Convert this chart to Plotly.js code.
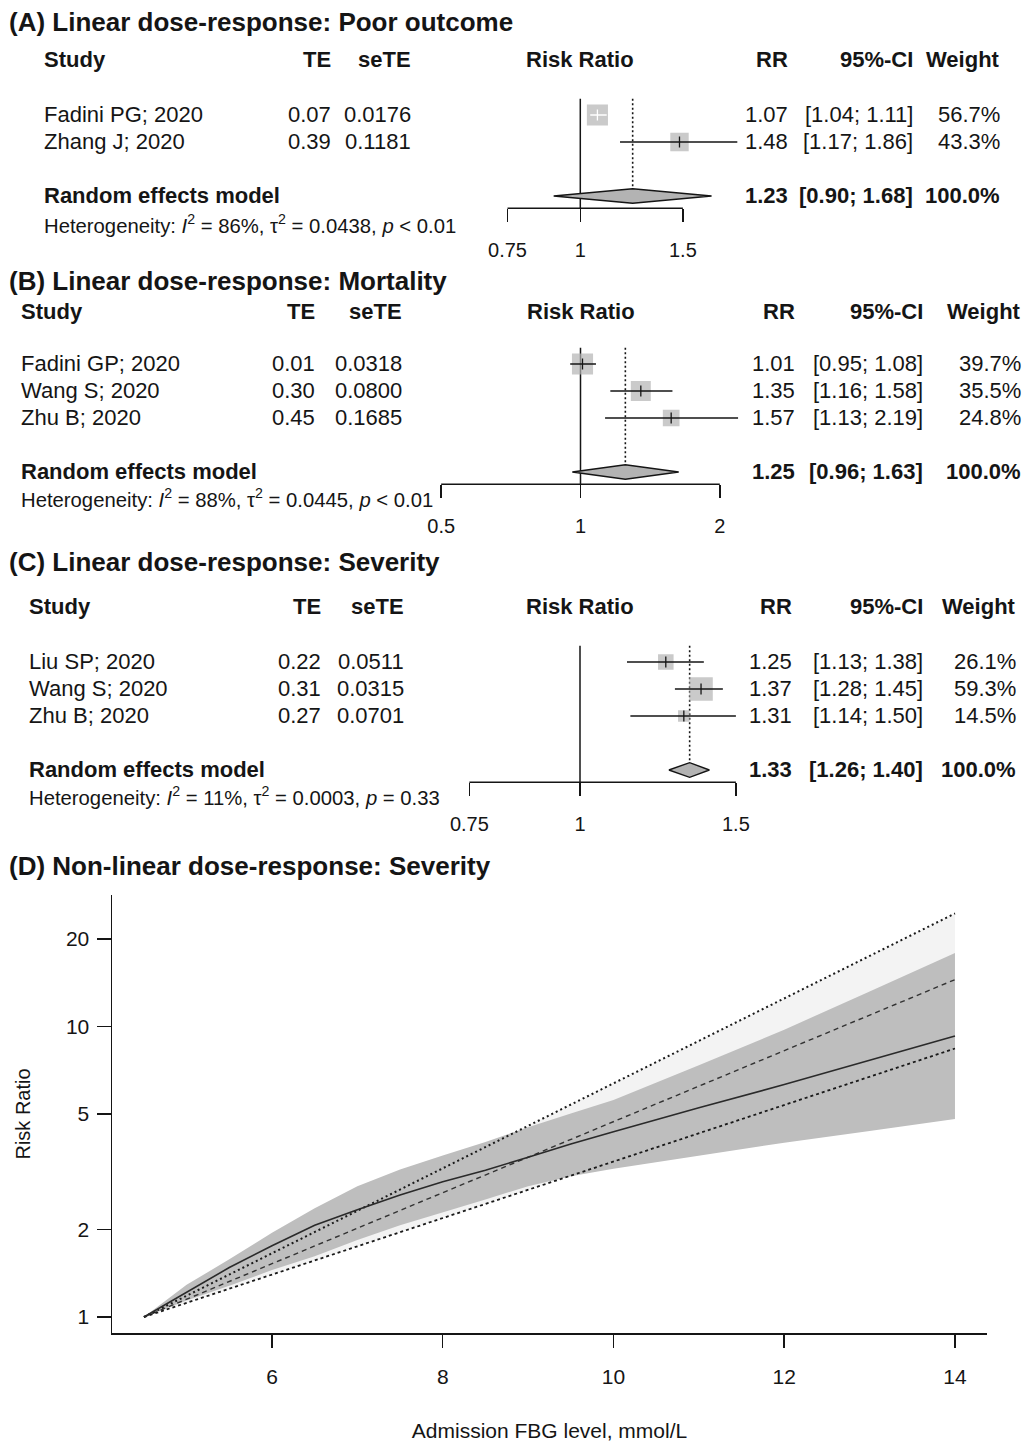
<!DOCTYPE html>
<html>
<head>
<meta charset="utf-8">
<script src="https://cdn.plot.ly/plotly-3.0.1.min.js"></script>
<style>
html,body{margin:0;padding:0;background:#fff;}
#chart{width:1030px;height:1442px;}
</style>
</head>
<body>
<div id="chart"></div>
<script>
// ================= DATA =================
const panelTitles = [
  "(A) Linear dose-response: Poor outcome",
  "(B) Linear dose-response: Mortality",
  "(C) Linear dose-response: Severity",
  "(D) Non-linear dose-response: Severity"
];

// (A) Poor outcome
const studiesA = ["Fadini PG; 2020", "Zhang J; 2020"];
const teA = [0.07, 0.39];
const seTEA = [0.0176, 0.1181];
const rrA = [1.07, 1.48];
const loA = [1.04, 1.17];
const hiA = [1.11, 1.86];
const weightA = [56.7, 43.3];
const ticksA = [0.75, 1, 1.5];

// (B) Mortality
const studiesB = ["Fadini GP; 2020", "Wang S; 2020", "Zhu B; 2020"];
const teB = [0.01, 0.30, 0.45];
const seTEB = [0.0318, 0.0800, 0.1685];
const rrB = [1.01, 1.35, 1.57];
const loB = [0.95, 1.16, 1.13];
const hiB = [1.08, 1.58, 2.19];
const weightB = [39.7, 35.5, 24.8];
const ticksB = [0.5, 1, 2];

// (C) Severity
const studiesC = ["Liu SP; 2020", "Wang S; 2020", "Zhu B; 2020"];
const teC = [0.22, 0.31, 0.27];
const seTEC = [0.0511, 0.0315, 0.0701];
const rrC = [1.25, 1.37, 1.31];
const loC = [1.13, 1.28, 1.14];
const hiC = [1.38, 1.45, 1.50];
const weightC = [26.1, 59.3, 14.5];
const ticksC = [0.75, 1, 1.5];

// Random effects model (A, B, C)
const pooledRR = [1.23, 1.25, 1.33];
const pooledLo = [0.90, 0.96, 1.26];
const pooledHi = [1.68, 1.63, 1.40];
const pooledWeight = [100.0, 100.0, 100.0];
const hetI2 = [86, 88, 11];
const hetTau2 = [0.0438, 0.0445, 0.0003];
const hetP = ["< 0.01", "< 0.01", "= 0.33"];

// (D) Non-linear dose-response
const fbg = [4.5, 5, 5.5, 6, 6.5, 7, 7.5, 8, 8.5, 9, 9.5, 10, 11, 12, 13, 14];
const rrSpline = [1.00, 1.22, 1.48, 1.76, 2.07, 2.34, 2.63, 2.92, 3.20, 3.55, 3.94, 4.34, 5.25, 6.31, 7.67, 9.27];
const splineLo = [1.00, 1.14, 1.28, 1.45, 1.62, 1.84, 2.07, 2.29, 2.54, 2.82, 3.05, 3.24, 3.59, 3.98, 4.37, 4.80];
const splineHi = [1.00, 1.29, 1.58, 1.95, 2.37, 2.82, 3.22, 3.60, 4.00, 4.50, 5.02, 5.58, 7.35, 9.75, 13.2, 17.9];
const fbgLinear = [4.5, 14];
const rrLinear = [1.00, 14.5];
const linearLo = [1.00, 8.4];
const linearHi = [1.00, 24.5];
const ticksDx = [6, 8, 10, 12, 14];
const ticksDy = [1, 2, 5, 10, 20];

// ================= LAYOUT HELPERS =================
const FONT = "Liberation Sans, Arial, Helvetica, sans-serif";
const W = 1030, H = 1442;
const px = v => v / W;
const py = v => 1 - v / H;
const INK = "#151515";
const BOXGRAY = "#b3b3b3";

const forest = [
  { studies: studiesA, te: teA, se: seTEA, rr: rrA, lo: loA, hi: hiA, w: weightA, ticks: ticksA,
    geo: { firstRow: 115, rowH: 27, p1: 580.3, k: 253, box: 2.8, headOff: -1.05, hetOff: 1.05,
           cStudy: 43, cTE: 332, cSE: 412, cRR: 789, cCI: 914, cW: 1001 } },
  { studies: studiesB, te: teB, se: seTEB, rr: rrB, lo: loB, hi: hiB, w: weightB, ticks: ticksB,
    geo: { firstRow: 364, rowH: 27, p1: 580.5, k: 201, box: 3.35, headOff: -0.93, hetOff: 0.95,
           cStudy: 20, cTE: 316, cSE: 403, cRR: 796, cCI: 924, cW: 1022 } },
  { studies: studiesC, te: teC, se: seTEC, rr: rrC, lo: loC, hi: hiC, w: weightC, ticks: ticksC,
    geo: { firstRow: 662, rowH: 27, p1: 580, k: 384.5, box: 3.05, headOff: -1.05, hetOff: 0.97,
           cStudy: 28, cTE: 322, cSE: 405, cRR: 793, cCI: 924, cW: 1017 } }
];

const traces = [];
const annotations = [];
const layout = {
  width: W, height: H,
  margin: { l: 0, r: 0, t: 0, b: 0 },
  paper_bgcolor: "#ffffff", plot_bgcolor: "rgba(0,0,0,0)",
  showlegend: false, hovermode: false,
  font: { family: FONT, color: INK },
  annotations: annotations
};

function txt(x, y, yref, text, anchor, size, bold) {
  annotations.push({
    x: x, y: y, xref: "paper", yref: yref, text: bold ? "<b>" + text + "</b>" : text,
    showarrow: false, xanchor: anchor, yanchor: "middle",
    font: { family: FONT, size: size, color: INK }, borderpad: 0
  });
}

// panel titles
[22, 281, 562, 866].forEach((y, i) => {
  txt(px(8), py(y), "paper", panelTitles[i], "left", 26, true);
});

forest.forEach((P, i) => {
  const G = P.geo;
  const ax = i === 0 ? "" : String(i + 1);
  const xa = "x" + ax, ya = "y" + ax;
  const n = P.studies.length;
  const rows = P.studies.map((_, j) => j + 1);
  const sumRow = n + 2;
  const axisRow = sumRow + 0.45;
  const hetRow = sumRow + G.hetOff;
  const headRow = G.headOff;
  const topRow = 0.4;
  const dh = 0.27;
  const rowPx = r => G.firstRow + (r - 1) * G.rowH;
  const rowAt = p => 1 + (p - G.firstRow) / G.rowH;
  const domTop = rowPx(headRow) - 22;
  const domBot = rowPx(axisRow) + 34;

  layout["xaxis" + ax] = {
    type: "log", domain: [px(420), px(765)],
    range: [(420 - G.p1) / G.k / Math.LN10, (765 - G.p1) / G.k / Math.LN10],
    anchor: "free", position: py(rowPx(axisRow)),
    showline: false, showgrid: false, zeroline: false,
    ticks: "outside", ticklen: 13, tickwidth: 1.5, tickcolor: INK,
    tickvals: P.ticks, ticktext: P.ticks.map(String),
    tickfont: { family: FONT, size: 20, color: INK },
    ticklabelstandoff: 11, fixedrange: true
  };
  layout["yaxis" + ax] = {
    domain: [py(domBot), py(domTop)],
    range: [rowAt(domBot), rowAt(domTop)],
    visible: false, fixedrange: true
  };

  // axis line + null line
  traces.push({
    x: [P.ticks[0], P.ticks[P.ticks.length - 1], null, 1, 1],
    y: [axisRow, axisRow, null, topRow, axisRow],
    xaxis: xa, yaxis: ya, mode: "lines",
    line: { color: INK, width: 1.5 }
  });
  // dotted summary line
  traces.push({
    x: [pooledRR[i], pooledRR[i]], y: [topRow, sumRow - dh],
    xaxis: xa, yaxis: ya, mode: "lines",
    line: { color: INK, width: 1.6, dash: "2px,2.5px" }
  });
  // squares
  const sizes = P.w.map(w => G.box * Math.sqrt(w));
  traces.push({
    x: P.rr, y: rows, xaxis: xa, yaxis: ya, mode: "markers",
    marker: { symbol: "square", size: sizes, color: BOXGRAY, line: { width: 0 } }
  });
  // CI lines
  const blackX = [], blackY = [], whiteX = [], whiteY = [], tickCol = [];
  P.rr.forEach((r, j) => {
    const half = sizes[j] / 2;
    const inside = G.k * Math.log(r / P.lo[j]) <= half && G.k * Math.log(P.hi[j] / r) <= half;
    const X = inside ? whiteX : blackX, Y = inside ? whiteY : blackY;
    X.push(P.lo[j], P.hi[j], null); Y.push(rows[j], rows[j], null);
    tickCol.push(inside ? "#ffffff" : INK);
  });
  traces.push({ x: blackX, y: blackY, xaxis: xa, yaxis: ya, mode: "lines", line: { color: INK, width: 1.5 } });
  traces.push({ x: whiteX, y: whiteY, xaxis: xa, yaxis: ya, mode: "lines", line: { color: "#ffffff", width: 1.5 } });
  traces.push({
    x: P.rr, y: rows, xaxis: xa, yaxis: ya, mode: "markers",
    marker: { symbol: "line-ns", size: 8, line: { width: 1.3, color: tickCol } }
  });
  // diamond
  traces.push({
    x: [pooledLo[i], pooledRR[i], pooledHi[i], pooledRR[i], pooledLo[i]],
    y: [sumRow, sumRow - dh, sumRow, sumRow + dh, sumRow],
    xaxis: xa, yaxis: ya, mode: "lines", fill: "toself", fillcolor: BOXGRAY,
    line: { color: INK, width: 1.4 }
  });

  // column texts
  const xp = v => px(v);
  txt(xp(G.cStudy), headRow, ya, "Study", "left", 22, true);
  txt(xp(G.cTE), headRow, ya, "TE", "right", 22, true);
  txt(xp(G.cSE), headRow, ya, "seTE", "right", 22, true);
  txt(xp(G.p1), headRow, ya, "Risk Ratio", "center", 22, true);
  txt(xp(G.cRR), headRow, ya, "RR", "right", 22, true);
  txt(xp(G.cCI), headRow, ya, "95%-CI", "right", 22, true);
  txt(xp(G.cW), headRow, ya, "Weight", "right", 22, true);
  P.studies.forEach((s, j) => {
    txt(xp(G.cStudy), rows[j], ya, s, "left", 22, false);
    txt(xp(G.cTE), rows[j], ya, P.te[j].toFixed(2), "right", 22, false);
    txt(xp(G.cSE), rows[j], ya, P.se[j].toFixed(4), "right", 22, false);
    txt(xp(G.cRR), rows[j], ya, P.rr[j].toFixed(2), "right", 22, false);
    txt(xp(G.cCI), rows[j], ya, "[" + P.lo[j].toFixed(2) + "; " + P.hi[j].toFixed(2) + "]", "right", 22, false);
    txt(xp(G.cW), rows[j], ya, P.w[j].toFixed(1) + "%", "right", 22, false);
  });
  txt(xp(G.cStudy), sumRow, ya, "Random effects model", "left", 22, true);
  txt(xp(G.cRR), sumRow, ya, pooledRR[i].toFixed(2), "right", 22, true);
  txt(xp(G.cCI), sumRow, ya, "[" + pooledLo[i].toFixed(2) + "; " + pooledHi[i].toFixed(2) + "]", "right", 22, true);
  txt(xp(G.cW), sumRow, ya, pooledWeight[i].toFixed(1) + "%", "right", 22, true);
  const pTxt = hetP[i].replace("<", "&lt;");
  txt(xp(G.cStudy), hetRow, ya,
      "Heterogeneity: <i>I</i><sup>2</sup> = " + hetI2[i] + "%, \u03c4<sup>2</sup> = " +
      hetTau2[i].toFixed(4) + ", <i>p</i> " + pTxt, "left", 20.3, false);
});

// ================= PANEL D =================
const xD = "x4", yD = "y4";
traces.push({ x: fbgLinear, y: linearLo, xaxis: xD, yaxis: yD, mode: "lines", line: { width: 0 } });
traces.push({ x: fbgLinear, y: linearHi, xaxis: xD, yaxis: yD, mode: "lines", line: { width: 0 },
              fill: "tonexty", fillcolor: "#f3f3f3" });
traces.push({ x: fbg, y: splineLo, xaxis: xD, yaxis: yD, mode: "lines", line: { width: 0 } });
traces.push({ x: fbg, y: splineHi, xaxis: xD, yaxis: yD, mode: "lines", line: { width: 0 },
              fill: "tonexty", fillcolor: "#bebebe" });
traces.push({ x: fbgLinear, y: rrLinear, xaxis: xD, yaxis: yD, mode: "lines",
              line: { color: "#333333", width: 1.4, dash: "5px,4px" } });
traces.push({ x: fbgLinear, y: linearHi, xaxis: xD, yaxis: yD, mode: "lines",
              line: { color: "#1a1a1a", width: 2, dash: "2px,3px" } });
traces.push({ x: fbgLinear, y: linearLo, xaxis: xD, yaxis: yD, mode: "lines",
              line: { color: "#1a1a1a", width: 1.8, dash: "3px,3px" } });
traces.push({ x: fbg, y: rrSpline, xaxis: xD, yaxis: yD, mode: "lines",
              line: { color: "#2a2a2a", width: 1.6 } });

layout.xaxis4 = {
  domain: [px(112), px(987)], range: [4.126, 14.375], anchor: "y4",
  showline: true, linecolor: INK, linewidth: 1.5, mirror: false,
  showgrid: false, zeroline: false,
  ticks: "outside", ticklen: 13, tickwidth: 1.5, tickcolor: INK,
  tickvals: ticksDx, ticktext: ticksDx.map(String),
  tickfont: { family: FONT, size: 21, color: INK }, ticklabelstandoff: 11,
  title: { text: "Admission FBG level, mmol/L", font: { family: FONT, size: 21, color: INK }, standoff: 38 },
  fixedrange: true
};
layout.yaxis4 = {
  type: "log", domain: [py(1333), py(895)], range: [-0.0551, 1.4527], anchor: "x4",
  showline: true, linecolor: INK, linewidth: 1.5,
  showgrid: false, zeroline: false,
  ticks: "outside", ticklen: 14, tickwidth: 1.5, tickcolor: INK,
  tickvals: ticksDy, ticktext: ticksDy.map(String),
  tickfont: { family: FONT, size: 21, color: INK }, ticklabelstandoff: 3,
  title: { text: "Risk Ratio", font: { family: FONT, size: 20, color: INK }, standoff: 30 },
  fixedrange: true
};

Plotly.newPlot("chart", traces, layout, { staticPlot: true, displayModeBar: false });
</script>
</body>
</html>
